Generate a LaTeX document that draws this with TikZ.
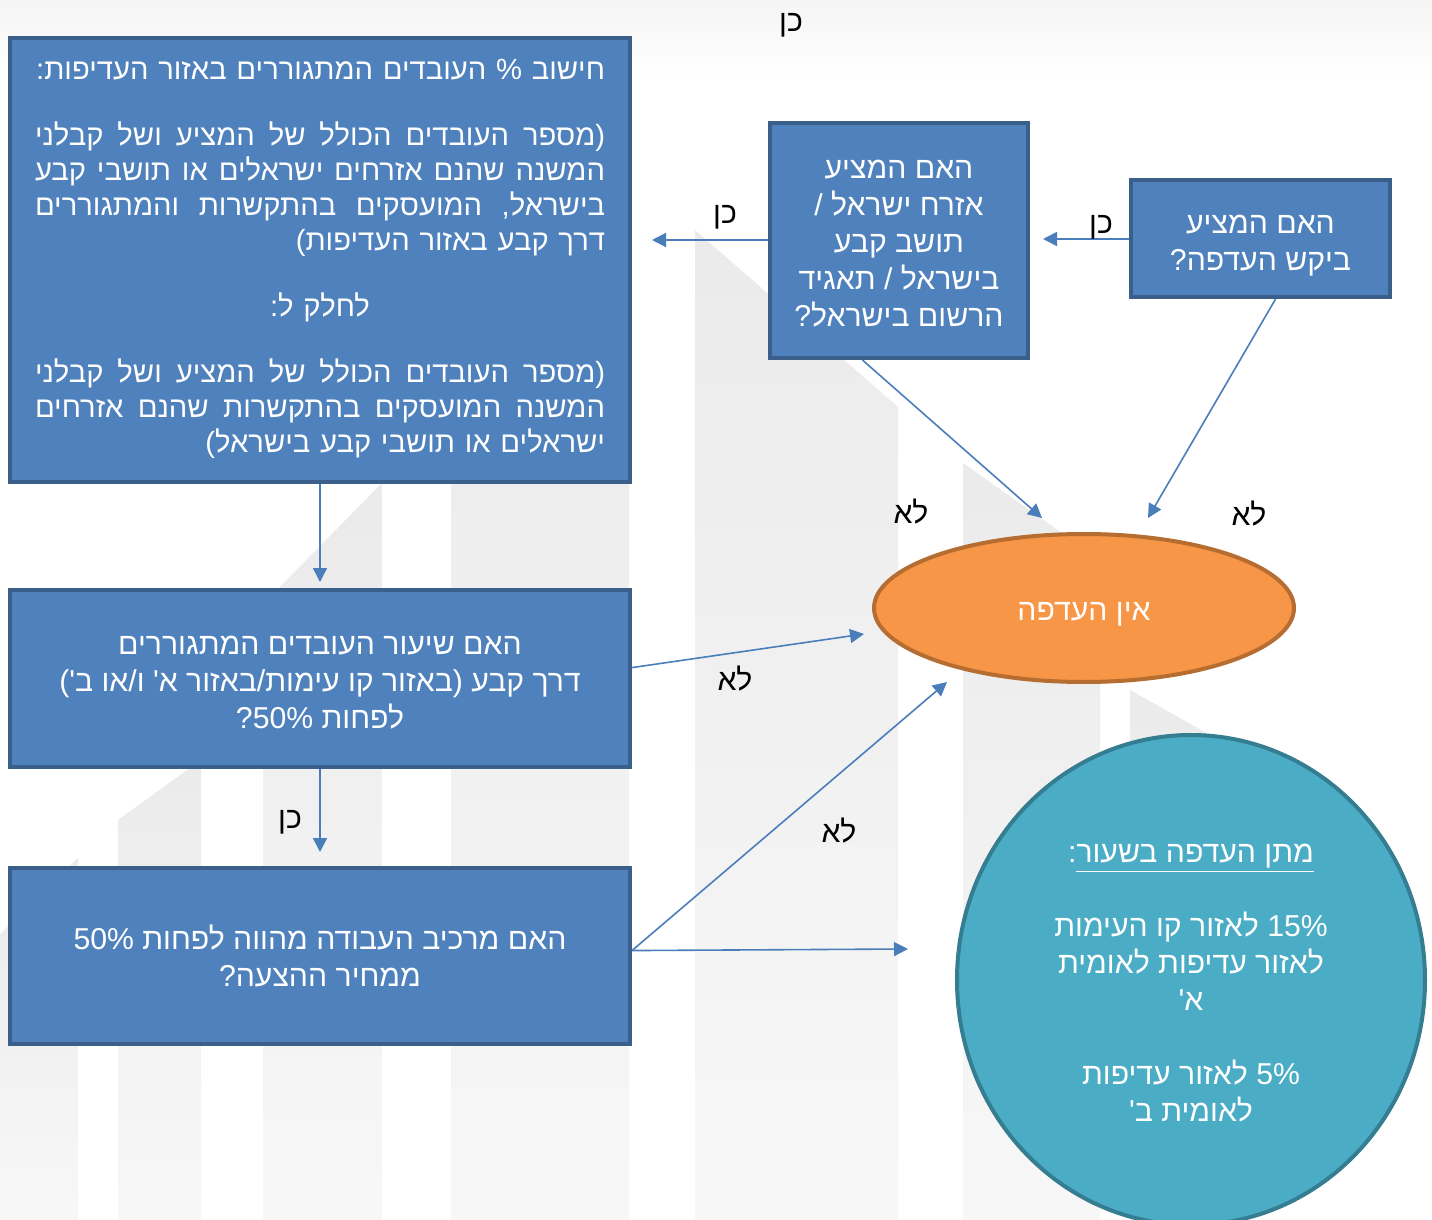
\documentclass[tikz,border=0pt]{standalone}
\usepackage{fontspec}
\usetikzlibrary{shapes.geometric,arrows.meta}
\newfontfamily\heb[Script=Hebrew]{Liberation Sans}
\TeXXeTstate=1
\definecolor{boxfill}{HTML}{4F81BD}
\definecolor{boxline}{HTML}{3A5F8B}
\definecolor{arrcol}{HTML}{4A7EBB}
\definecolor{orfill}{HTML}{F79646}
\definecolor{orline}{HTML}{B66D31}
\definecolor{tlfill}{HTML}{4BACC6}
\definecolor{tlline}{HTML}{357D91}
\newcommand\RL[1]{\beginR #1\endR}
% justified line: words given in visual (left-to-right) order, separated by \hfill
\newcommand\JL[1]{\leavevmode\hbox to 285pt{#1}}
\newcommand\Tl{\rule{0pt}{13.6pt}}
\newcommand\Tp[1][16.1pt]{\rule{0pt}{#1}}
\newcommand\Bt{\rule[-4pt]{0pt}{0pt}}
\begin{document}
\begin{tikzpicture}[x=0.5pt,y=-0.5pt,
  qbox/.style={draw=boxline,fill=boxfill,line width=2pt,inner sep=0pt,text=white,
    font=\heb\fontsize{15.1}{18.5}\selectfont,align=center},
  noneell/.style={ellipse,draw=orline,fill=orfill,line width=2pt,inner sep=0pt,text=white,
    font=\heb\fontsize{15.1}{18.5}\selectfont,align=center},
  giveell/.style={ellipse,draw=tlline,fill=tlfill,line width=2pt,inner sep=0pt,text=white,
    font=\heb\fontsize{15.1}{18.5}\selectfont,align=center},
  lbl/.style={text=black,inner sep=0pt,font=\heb\fontsize{15.1}{18}\selectfont},
  arr/.style={draw=arrcol,line width=0.8pt,-{Triangle[length=7pt,width=7pt]}},
  bgbar/.style={top color=black!8,bottom color=black!3}]
\useasboundingbox (0,0) rectangle (1432,1220);
% background watermark
\fill[white] (0,0) rectangle (1432,1220);
\shade[top color=black!4,bottom color=white] (0,0) rectangle (1432,80);
\shade[bgbar] (695,230) -- (898,407) -- (898,1220) -- (695,1220) -- cycle;
\shade[bgbar] (963,463) -- (1100,560) -- (1100,1220) -- (963,1220) -- cycle;
\shade[bgbar] (1130,690) -- (1210,735) -- (1210,1220) -- (1130,1220) -- cycle;
\shade[bgbar] (451,300) -- (629,300) -- (629,1220) -- (451,1220) -- cycle;
\shade[bgbar] (263,604) -- (382,483) -- (382,1220) -- (263,1220) -- cycle;
\shade[bgbar] (118,820) -- (201,760) -- (201,1220) -- (118,1220) -- cycle;
\shade[bgbar] (0,934) -- (78,858) -- (78,1220) -- (0,1220) -- cycle;
% nodes
\node[qbox,minimum width=310pt,minimum height=222pt,text width=285pt,align=right,
  font=\heb\fontsize{14.6}{17.5}\selectfont] (A) at (320,260) {%
  \makebox[285pt][r]{\Tl\RL{חישוב \% העובדים המתגוררים באזור העדיפות:}}\\[15.5pt]
  \JL{קבלני\hfill ושל\hfill המציע\hfill של\hfill הכולל\hfill העובדים\hfill (מספר}\\
  \JL{קבע\hfill תושבי\hfill או\hfill ישראלים\hfill אזרחים\hfill שהנם\hfill המשנה}\\
  \JL{והמתגוררים\hfill בהתקשרות\hfill המועסקים\hfill בישראל,}\\
  \RL{דרך קבע באזור העדיפות)}\\[15.5pt]
  \makebox[285pt][c]{\RL{לחלק ל:}}\\[15.5pt]
  \JL{קבלני\hfill ושל\hfill המציע\hfill של\hfill הכולל\hfill העובדים\hfill (מספר}\\
  \JL{אזרחים\hfill שהנם\hfill בהתקשרות\hfill המועסקים\hfill המשנה}\\
  \RL{ישראלים או תושבי קבע בישראל)}\rule[-8pt]{0pt}{0pt}};
\node[qbox,minimum width=129pt,minimum height=117.5pt] (B) at (899,240.5) {%
  \Tp[15.6pt]\RL{האם המציע}\\ \RL{אזרח ישראל /}\\ \RL{תושב קבע}\\ \RL{בישראל / תאגיד}\\ \RL{הרשום בישראל?}\Bt};
\node[qbox,minimum width=129.5pt,minimum height=58.5pt] (C) at (1260.5,238.5) {%
  \Tp[17.1pt]\RL{האם המציע}\\ \RL{ביקש העדפה?}\Bt};
\node[qbox,minimum width=310pt,minimum height=88.5pt] (D) at (320,678.5) {%
  \Tp[16.6pt]\RL{האם שיעור העובדים המתגוררים}\\
  \RL{דרך קבע (באזור קו עימות/באזור א' ו/או ב')}\\
  \RL{לפחות \beginL 50\%\endL?}\Bt};
\node[qbox,minimum width=310pt,minimum height=88pt] (E) at (320,956) {%
  \Tp[15.6pt]\RL{האם מרכיב העבודה מהווה לפחות \beginL 50\%\endL}\\
  \RL{ממחיר ההצעה?}\Bt};
\node[noneell,minimum width=210pt,minimum height=74pt] (F) at (1084,608) {\Tp[16.6pt]\RL{אין העדפה}\Bt};
\node[giveell,minimum width=234pt,minimum height=245pt] (G) at (1191,980) {%
  \Tp\RL{$\underline{\hbox{\beginR מתן העדפה בשעור\endR}}$:}\\[18.5pt]
  \RL{\beginL 15\%\endL{} לאזור קו העימות}\\
  \RL{לאזור עדיפות לאומית}\\
  \RL{א'}\\[18.5pt]
  \RL{\beginL 5\%\endL{} לאזור עדיפות}\\
  \RL{לאומית ב'}\Bt};
% free arrow ends
\coordinate (c1) at (1043,239);
\coordinate (b1) at (652,240);
\coordinate (b2) at (1042,518);
\coordinate (c2) at (1148,518);
\coordinate (a1) at (320,582);
\coordinate (d1) at (320,852);
\coordinate (d2) at (864,634);
\coordinate (e1) at (947,682);
\coordinate (e2) at (908,949);
% connectors
\draw[arr] (C.west |- c1) -- (c1);
\draw[arr] (B.west |- b1) -- (b1);
\draw[arr] (B.253) -- (b2);
\draw[arr] (C.284) -- (c2);
\draw[arr] (A.south) -- (a1);
\draw[arr] (D.south) -- (d1);
\draw[arr] (D.2) -- (d2);
\draw[arr] (E.1) -- (e1);
\draw[arr] (E.1) -- (e2);
% labels
\node[lbl] (l0) at (791,22) {\Tl\RL{כן}\Bt};
\node[lbl] (l1) at (1101,224) {\Tl\RL{כן}\Bt};
\node[lbl] (l2) at (725,214) {\Tl\RL{כן}\Bt};
\node[lbl] (l3) at (911,514) {\Tl\RL{לא}\Bt};
\node[lbl] (l4) at (1249,516) {\Tl\RL{לא}\Bt};
\node[lbl] (l5) at (290,819) {\Tl\RL{כן}\Bt};
\node[lbl] (l6) at (735,681) {\Tl\RL{לא}\Bt};
\node[lbl] (l7) at (839,833) {\Tl\RL{לא}\Bt};
\end{tikzpicture}
\end{document}
